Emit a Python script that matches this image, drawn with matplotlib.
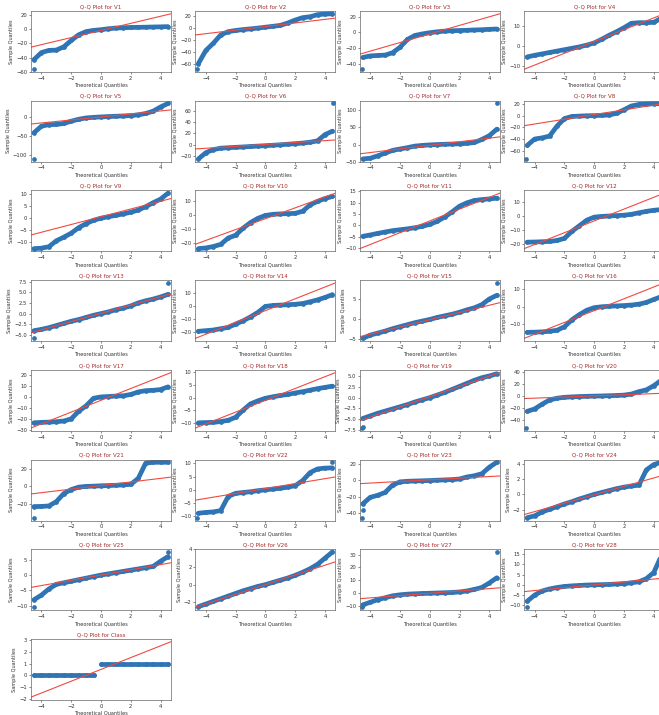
import matplotlib
matplotlib.use("Agg")
import matplotlib.pyplot as plt
from matplotlib.ticker import MaxNLocator

# theoretical normal quantiles at which the sample quantiles were read
theoretical_q = [-4.5, -4.0, -3.5, -3.0, -2.5, -2.0, -1.5, -1.0, -0.5, 0.0,
                 0.5, 1.0, 1.5, 2.0, 2.5, 3.0, 3.5, 4.0, 4.5]

variables = ["V1", "V2", "V3", "V4", "V5", "V6", "V7", "V8", "V9", "V10",
             "V11", "V12", "V13", "V14", "V15", "V16", "V17", "V18", "V19",
             "V20", "V21", "V22", "V23", "V24", "V25", "V26", "V27", "V28",
             "Class"]

# sample quantiles at theoretical_q
v1 = [-43, -33, -30, -29.5, -25, -16, -8, -3.5, -1.8, -0.8, 0.5, 1.5, 2, 2.3, 2.5, 2.7, 3, 3.2, 3.5]
v2 = [-60, -38, -26, -12, -6.5, -4.5, -3, -1.8, -0.5, 1, 2.5, 4, 8, 13, 17, 18.5, 22, 23, 23.5]
v3 = [-32, -30, -29.5, -29, -26, -19, -9, -4, -2, -0.5, 0.7, 1.5, 2, 2.3, 2.6, 3, 3.3, 3.8, 4.2]
v4 = [-5.3, -4.5, -3.8, -3.1, -2.4, -1.7, -1, -0.3, 0.6, 1.7, 3.5, 5.5, 7.3, 9.3, 11.5, 11.8, 11.8, 12, 14]
v5 = [-42, -25, -21, -20.5, -18, -12, -7, -3.5, -2, -0.9, 0, 0.8, 1.6, 2.5, 4.5, 8, 14, 25, 34]
v6 = [-25, -14, -8.5, -6, -5.2, -4.5, -3.8, -3, -2.3, -1.6, -0.8, 0, 1, 2, 3, 4.5, 7, 18, 24]
v7 = [-42, -40, -33, -25, -17, -13, -9, -4.5, -2.5, -1, 0, 0.8, 1.5, 2.2, 3.5, 6, 15, 26, 45]
v8 = [-51, -40, -38, -35, -18, -5, -1.5, -0.8, -0.3, 0, 0.5, 1, 4, 10, 16.5, 19, 19.8, 20.2, 20.5]
v9 = [-12.8, -12.6, -12, -9.5, -8, -6.3, -4, -2.3, -0.9, 0, 0.6, 1.2, 1.8, 2.5, 3.4, 4.8, 6.5, 8, 10.5]
v10 = [-24, -23.5, -22.5, -21, -16.5, -14.5, -9.5, -5.5, -2.5, -0.5, 0.3, 0.6, 0.8, 1, 2.5, 7, 9.5, 11.5, 13]
v11 = [-4.8, -4.2, -3.5, -2.9, -2.3, -1.9, -1.5, -1.0, -0.4, 0.5, 1.8, 3.7, 6, 8.5, 10, 11, 11.4, 11.7, 12]
v12 = [-18.7, -18.6, -18.4, -18.2, -17.5, -16, -11, -7, -3, -0.8, -0.3, 0, 0.3, 0.6, 1.2, 2.3, 3.3, 4.1, 4.6]
v13 = [-4.0, -3.7, -3.3, -2.8, -2.3, -1.8, -1.4, -0.9, -0.4, 0, 0.4, 0.9, 1.3, 1.8, 2.5, 3, 3.4, 3.9, 4.5]
v14 = [-19.5, -19, -18.5, -17.5, -16.5, -14, -11.5, -8.5, -5, -0.5, 0.2, 0.5, 0.8, 1.1, 1.7, 3, 4.5, 6.3, 8.5]
v15 = [-4.8, -4.0, -3.5, -3.0, -2.4, -1.9, -1.4, -0.9, -0.5, -0.1, 0.4, 0.8, 1.2, 1.7, 2.3, 2.8, 3.6, 5, 5.9]
v16 = [-14.7, -14.6, -14.4, -14.1, -13.5, -11.5, -7.5, -4.5, -2, -0.5, 0, 0.3, 0.5, 0.7, 1, 1.5, 2.5, 4.2, 5.8]
v17 = [-23.6, -23.3, -23, -22.6, -22, -20, -13, -8, -1, 0.2, 0.6, 1, 1.3, 2.5, 4.8, 6, 6.3, 7, 9.5]
v18 = [-10, -9.9, -9.8, -9.5, -9, -7.8, -5, -2.5, -1.3, -0.3, 0.3, 0.8, 1.2, 1.8, 2.3, 2.9, 3.5, 4, 4.5]
v19 = [-4.8, -4.2, -3.6, -3.1, -2.6, -2.1, -1.6, -1.0, -0.5, 0, 0.6, 1.2, 1.9, 2.6, 3.3, 4, 4.6, 5, 5.5]
v20 = [-26, -22, -14, -7, -4, -2.5, -1.8, -1.2, -0.8, -0.5, -0.2, 0.2, 0.6, 1.2, 3, 7, 10, 17, 26]
v21 = [-22.5, -22.4, -21.8, -17, -8, -3.5, -0.8, 0, 0.3, 0.7, 1, 1.3, 1.7, 2.3, 9, 26, 27, 27, 27]
v22 = [-8.8, -8.5, -8.3, -7.8, -2.5, -1.3, -1, -0.7, -0.3, 0, 0.3, 0.6, 1.0, 1.6, 3.5, 6.5, 7.9, 8.2, 8.3]
v23 = [-29, -21, -18.5, -15, -6, -2, -1.3, -1, -0.7, -0.4, 0, 0.4, 0.8, 1.5, 4, 5.5, 8, 16, 22]
v24 = [-3.05, -2.8, -2.3, -1.95, -1.6, -1.25, -0.95, -0.6, -0.3, 0, 0.25, 0.5, 0.75, 0.95, 1.1, 1.2, 3.2, 3.9, 4.2]
v25 = [-8, -6.5, -4.5, -3, -2.5, -2, -1.5, -1, -0.5, 0, 0.4, 0.8, 1.2, 1.6, 2, 2.4, 2.8, 4.5, 6]
v26 = [-2.5, -2.2, -1.9, -1.6, -1.3, -1.0, -0.7, -0.45, -0.2, 0, 0.25, 0.5, 0.75, 1.05, 1.4, 1.8, 2.3, 3.0, 3.7]
v27 = [-9, -7, -5, -3.5, -2, -1.2, -0.7, -0.4, -0.2, 0, 0.2, 0.4, 0.6, 1, 1.8, 3, 4.5, 8, 12]
v28 = [-8, -5, -3, -2, -1.3, -0.8, -0.5, -0.3, -0.1, 0, 0.1, 0.2, 0.4, 0.6, 1, 1.5, 3, 6, 14]
class_q = [0, 0, 0, 0, 0, 0, 0, 0, 0, 1, 1, 1, 1, 1, 1, 1, 1, 1, 1]

# isolated extreme points (theoretical quantile, sample value)
v1_out = [(-4.52, -56.5)]
v2_out = [(-4.56, -69.5)]
v3_out = [(-4.52, -47)]
v4_out = [(4.5, 16)]
v5_out = [(-4.52, -110)]
v6_out = [(4.52, 73)]
v7_out = [(4.52, 120)]
v8_out = [(-4.56, -74)]
v9_out = []
v10_out = []
v11_out = []
v12_out = []
v13_out = [(-4.52, -5.8), (4.52, 7.2)]
v14_out = []
v15_out = [(4.52, 9)]
v16_out = []
v17_out = []
v18_out = []
v19_out = [(-4.52, -7.0), (-4.46, -6.8)]
v20_out = [(-4.56, -54), (4.52, 39)]
v21_out = [(-4.52, -35)]
v22_out = [(-4.56, -10.5), (4.5, 10.4)]
v23_out = [(-4.53, -46), (-4.46, -37)]
v24_out = []
v25_out = [(-4.52, -10.5), (4.52, 7.5)]
v26_out = []
v27_out = [(-4.52, -11), (4.52, 32)]
v28_out = [(-4.52, -11), (4.52, 16)]
class_out = []

# reference line (slope = std, intercept = mean)
line_slope = [5.0, 3.0, 5.47, 2.95, 3.9, 1.69, 5.27, 4.03, 1.63, 3.85,
              2.6, 4.22, 0.97, 4.5, 0.9, 3.39, 5.44, 2.33, 1.18, 0.95,
              2.0, 0.93, 1.0, 0.55, 0.85, 0.55, 0.9, 0.7, 0.5]
line_intercept = [-1.9, 2.1, -2.1, 2.4, -1.0, 0.6, -2.3, 1.8, 0.6, -2.8,
                  2.0, -3.5, 0.06, -3.7, -0.16, -2.2, -2.9, -1.1, 0.23, -0.1,
                  1.0, 0.5, 0.5, -0.05, 0.0, 0.0, 0.0, 0.0, 0.5]

sample_q = [v1, v2, v3, v4, v5, v6, v7, v8, v9, v10, v11, v12, v13, v14,
            v15, v16, v17, v18, v19, v20, v21, v22, v23, v24, v25, v26,
            v27, v28, class_q]
outliers = [v1_out, v2_out, v3_out, v4_out, v5_out, v6_out, v7_out, v8_out,
            v9_out, v10_out, v11_out, v12_out, v13_out, v14_out, v15_out,
            v16_out, v17_out, v18_out, v19_out, v20_out, v21_out, v22_out,
            v23_out, v24_out, v25_out, v26_out, v27_out, v28_out, class_out]

W, H = 659, 715
fig = plt.figure(figsize=(W / 100, H / 100), dpi=100)

BLUE = "#2f74b5"
XL = (-4.7, 4.7)
for k, name in enumerate(variables):
    r, c = divmod(k, 4)
    left = 31 + 164.4 * c
    top = 11 + 89.7 * r
    ax = fig.add_axes([left / W, 1 - (top + 61) / H, 140 / W, 61 / H])
    vals = sample_q[k]
    if name == "Class":
        for level in sorted(set(vals)):
            xs = [x for x, v in zip(theoretical_q, vals) if v == level]
            ys = [v for v in vals if v == level]
            ax.plot(xs, ys, color=BLUE, lw=3.4, solid_capstyle="round",
                    marker="o", ms=3.4, mew=0)
    else:
        ax.plot(theoretical_q, vals, color=BLUE, lw=3.4, solid_capstyle="round",
                solid_joinstyle="round", marker="o", ms=3.4, mew=0)
    if outliers[k]:
        ox = [p[0] for p in outliers[k]]
        oy = [p[1] for p in outliers[k]]
        ax.plot(ox, oy, "o", color=BLUE, ms=3.4, mew=0)
    ax.plot(XL, [line_slope[k] * XL[0] + line_intercept[k],
                 line_slope[k] * XL[1] + line_intercept[k]],
            color="#f04a40", lw=0.8)
    ax.set_xlim(XL)
    ax.margins(y=0.05)
    ax.yaxis.set_major_locator(MaxNLocator(nbins=6, steps=[1, 2, 2.5, 5, 10]))
    ax.set_xticks([-4, -2, 0, 2, 4])
    ax.tick_params(labelsize=3.8, length=1.5, width=0.4, pad=1.2,
                   colors="#333333")
    for s in ax.spines.values():
        s.set_linewidth(0.5)
        s.set_color("#666666")
    ax.set_title(f"Q-Q Plot for {name}", fontsize=4.0, color="#a52a2a", pad=2.0)
    ax.set_xlabel("Theoretical Quantiles", fontsize=3.6, labelpad=1.5,
                  color="#333333")
    ax.set_ylabel("Sample Quantiles", fontsize=3.6, labelpad=1.5,
                  color="#333333")

fig.savefig("out.png", dpi=100)
